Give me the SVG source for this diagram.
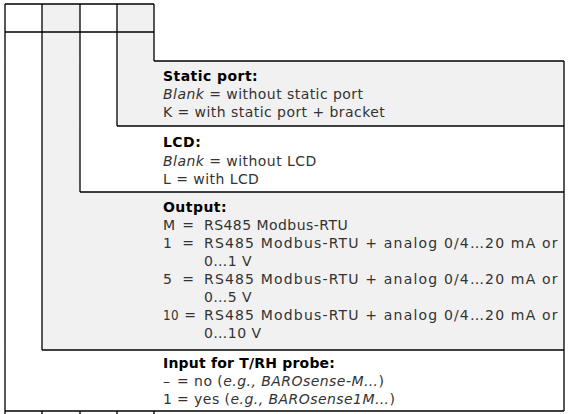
<svg xmlns="http://www.w3.org/2000/svg" width="571" height="414" viewBox="0 0 571 414">
<style>
.bg{fill:#fff}
.gray{fill:#f1f1f1;stroke:none}
.ln{stroke:#000;stroke-width:1.3;fill:none}
text{font-family:Verdana,"DejaVu Sans",sans-serif;font-size:14px;fill:#333;letter-spacing:0.45px}
.h{font-weight:bold;fill:#000}
.i{font-style:italic}
.eq{text-anchor:middle;letter-spacing:0}
</style>
<rect class="bg" x="0" y="0" width="571" height="414"/>
<g id="output-area">
<polygon class="gray" points="42,4 80,4 80,192 564,192 564,350 42,350"/>
</g>
<g id="static-port-area">
<polygon class="gray" points="117,4 154,4 154,61 564,61 564,126 117,126"/>
</g>
<g id="code-cells">
<rect x="5" y="4" width="37" height="28" fill="none"/>
<rect x="42" y="4" width="38" height="28" fill="none"/>
<rect x="80" y="4" width="37" height="28" fill="none"/>
<rect x="117" y="4" width="37" height="28" fill="none"/>
</g>
<g id="connectors">
<path class="ln" d="M5,4H154M5,32H154M5,4V414M42,4V350M80,4V192M117,4V126M154,4V61M154,61H564M117,126H564M80,192H564M42,350H564M5,411H564M564,61V411M42,411V414M80,411V414M117,411V414M154,411V414"/>
</g>
<g id="static-port">
<text class="h" x="163" y="81">Static port:</text>
<text x="163" y="99"><tspan class="i">Blank</tspan> = without static port</text>
<text x="163" y="117">K = with static port + bracket</text>
</g>
<g id="lcd">
<text class="h" x="163" y="147">LCD:</text>
<text x="163" y="166"><tspan class="i">Blank</tspan> = without LCD</text>
<text x="163" y="184">L = with LCD</text>
</g>
<g id="output">
<text class="h" x="163" y="212">Output:</text>
<text x="163" y="230">M</text><text class="eq" x="188" y="230">=</text><text x="204" y="230">RS485 Modbus-RTU</text>
<text x="163" y="248">1</text><text class="eq" x="188" y="248">=</text><text x="204" y="248" textLength="354" lengthAdjust="spacing">RS485 Modbus-RTU + analog 0/4…20 mA or</text>
<text x="204" y="266">0…1 V</text>
<text x="163" y="284">5</text><text class="eq" x="188" y="284">=</text><text x="204" y="284" textLength="354" lengthAdjust="spacing">RS485 Modbus-RTU + analog 0/4…20 mA or</text>
<text x="204" y="302">0…5 V</text>
<text x="163" y="320" textLength="16" lengthAdjust="spacingAndGlyphs">10</text><text class="eq" x="190" y="320">=</text><text x="204" y="320" textLength="354" lengthAdjust="spacing">RS485 Modbus-RTU + analog 0/4…20 mA or</text>
<text x="204" y="338">0…10 V</text>
</g>
<g id="input">
<text class="h" x="163" y="368" style="letter-spacing:0.2px">Input for T/RH probe:</text>
<text x="163" y="386">–</text><text x="177" y="386">= no (<tspan class="i">e.g., BAROsense-M…</tspan>)</text>
<text x="163" y="404">1</text><text x="177" y="404">= yes (<tspan class="i">e.g., BAROsense1M…</tspan>)</text>
</g>
</svg>
